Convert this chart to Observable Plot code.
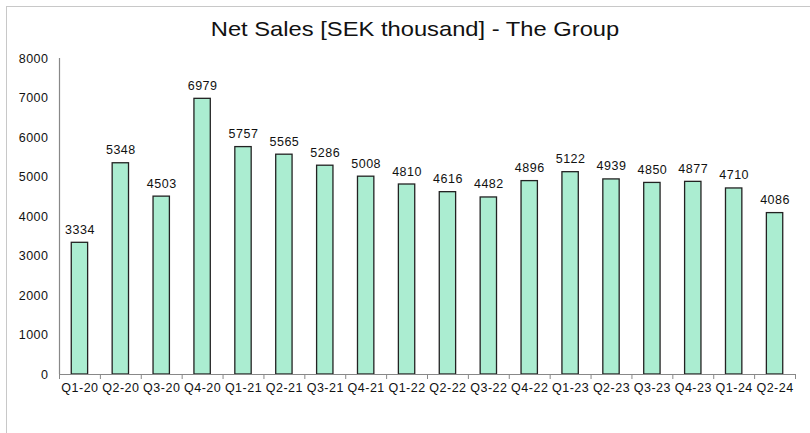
<!DOCTYPE html>
<html>
<head>
<meta charset="utf-8">
<script src="https://cdn.jsdelivr.net/npm/d3@7"></script>
<script src="https://cdn.jsdelivr.net/npm/@observablehq/plot@0.6"></script>
<style>
  html, body { margin: 0; padding: 0; background: #fff; }
  #wrap { position: relative; width: 810px; height: 433px; overflow: hidden; font-family: "Liberation Sans", Arial, sans-serif; }
  #frame { position: absolute; left: 6px; top: 6px; width: 900px; height: 500px; border-top: 1.5px solid #c8c8c8; border-left: 1.5px solid #c8c8c8; }
  #title { position: absolute; left: 20px; right: 0; top: 17px; text-align: center; font-size: 21px; color: #111; transform: scaleX(1.13); transform-origin: 395px 0; }
  #chart { position: absolute; left: 0; top: 0; }
  #chart svg text { letter-spacing: 0.5px; }
</style>
</head>
<body>
<div id="wrap">
  <div id="frame"></div>
  <div id="chart"></div>
  <div id="title">Net Sales [SEK thousand] - The Group</div>
</div>
<script>
const quarters = ["Q1-20","Q2-20","Q3-20","Q4-20","Q1-21","Q2-21","Q3-21","Q4-21","Q1-22","Q2-22","Q3-22","Q4-22","Q1-23","Q2-23","Q3-23","Q4-23","Q1-24","Q2-24"];
const netSales = [3334,5348,4503,6979,5757,5565,5286,5008,4810,4616,4482,4896,5122,4939,4850,4877,4710,4086];
const yTicks = [0,1000,2000,3000,4000,5000,6000,7000,8000];

const data = quarters.map((q, i) => ({q, v: netSales[i]}));

const W = 810, H = 433, ML = 59, MR = 15, MT = 58, MB = 59;
const step = (W - ML - MR) / quarters.length;
const perPx = 8000 / (H - MT - MB);

const chart = Plot.plot({
  width: W, height: H,
  marginLeft: ML, marginRight: MR, marginTop: MT, marginBottom: MB,
  style: {fontFamily: "'Liberation Sans', Arial, sans-serif", fontSize: "12px", color: "#111", background: "transparent"},
  x: {domain: quarters, paddingInner: 0.6, paddingOuter: 0.3, round: false, label: null},
  y: {domain: [0, 8000], label: null},
  marks: [
    Plot.axisY({ticks: yTicks, tickFormat: d => String(d), tickSize: 0, tickPadding: 11, label: null, fontSize: 12.5}),
    Plot.axisX({tickSize: 0, tickPadding: 9, label: null, fontSize: 12.5}),
    Plot.barY(data, {x: "q", y: "v", fill: "#abedd1", stroke: "#222", strokeWidth: 1.3}),
    Plot.text(data, {x: "q", y: "v", text: d => String(d.v), dy: -13, fontSize: 12.5, fill: "#111"}),
    Plot.ruleX(quarters, {x: d => d, dx: -step / 2, y1: 0, y2: -5 * perPx, stroke: "#888"}),
    Plot.ruleX([quarters[quarters.length - 1]], {x: d => d, dx: step / 2, y1: 0, y2: -5 * perPx, stroke: "#888"}),
    Plot.ruleY([0], {stroke: "#888", strokeWidth: 1.2}),
    Plot.ruleX([quarters[0]], {x: d => d, dx: -step / 2, y1: 0, y2: 8000, stroke: "#888", strokeWidth: 1.2})
  ]
});
document.getElementById("chart").appendChild(chart);
</script>
</body>
</html>
